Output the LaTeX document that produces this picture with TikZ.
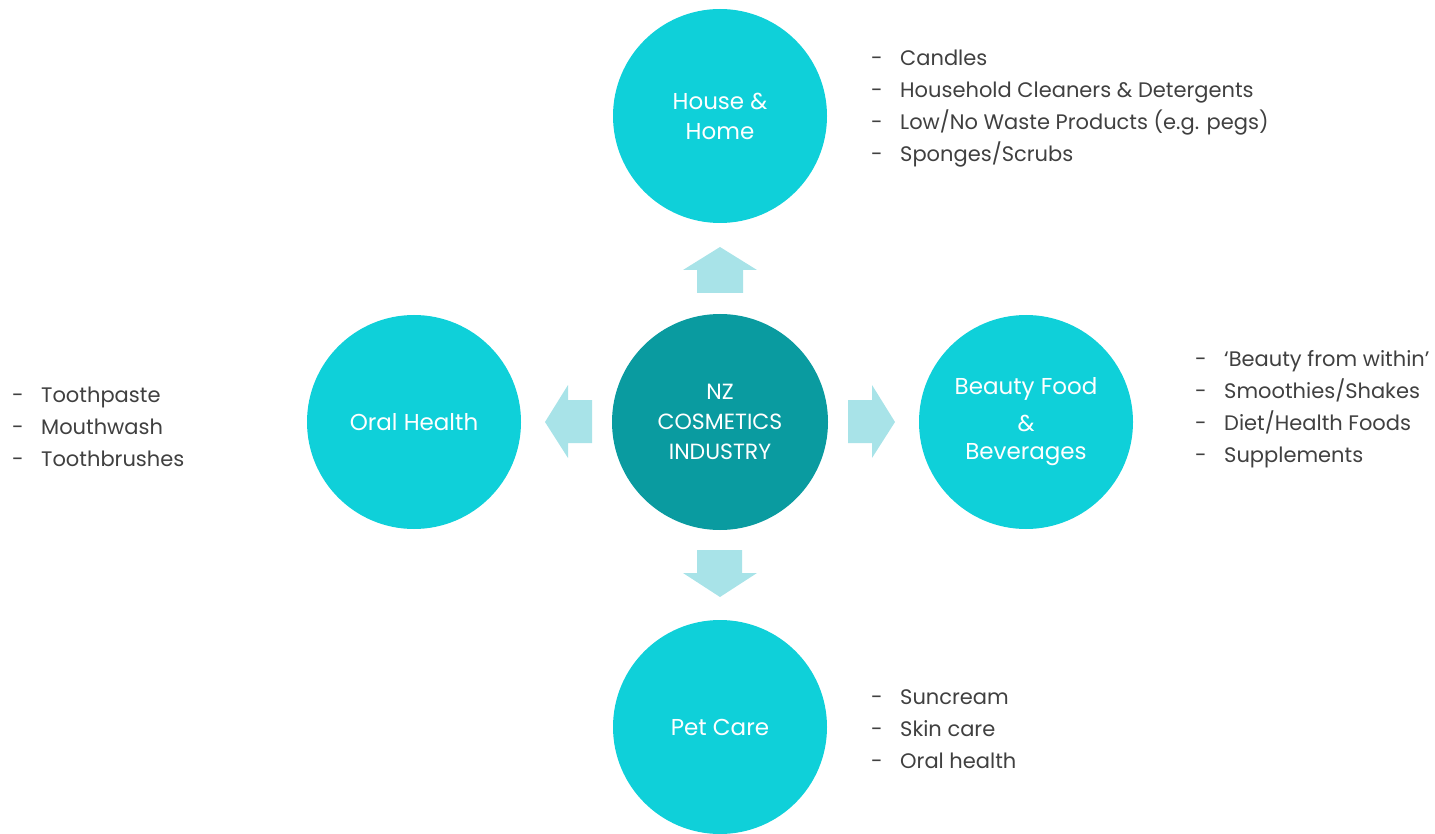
\documentclass[tikz,border=0pt]{standalone}
\usepackage{fontspec}
\setmainfont{Poppins}
\definecolor{centerc}{HTML}{0A9BA0}
\definecolor{outerc}{HTML}{0FD0D9}
\definecolor{arrowc}{HTML}{A8E3E8}
\definecolor{txt}{HTML}{404040}
\tikzset{
  hub/.style={circle, fill=centerc, minimum size=216pt, inner sep=0pt, text=white, align=center, font=\fontsize{22}{30}\selectfont},
  spoke/.style={circle, fill=outerc, minimum size=214pt, inner sep=0pt, text=white, align=center, font=\fontsize{23}{30}\selectfont},
  list/.style={anchor=north west, inner sep=0pt, align=left, text=txt, font=\fontsize{21}{32}\selectfont},
  blockarrow/.style={fill=arrowc, draw=none}
}
\newcommand{\itm}[1]{\makebox[29pt][l]{-}#1}
\begin{document}
\begin{tikzpicture}[x=1pt,y=-1pt]
\useasboundingbox (0,0) rectangle (1435,834);
\node[hub] (hub) at (720,422) {NZ\\COSMETICS\\INDUSTRY};
\node[spoke] (house) at (720,116) {House \&\\Home};
\node[spoke] (oral) at (414,422) {Oral Health};
\node[spoke] (beauty) at (1026,422) {Beauty Food\\[7pt]\&\\[-2pt]Beverages};
\node[spoke] (pet) at (720,727) {Pet Care};
% block arrows
\fill[blockarrow] (720,247) -- (757,270) -- (743,270) -- (743,293) -- (697,293) -- (697,270) -- (683,270) -- cycle;
\fill[blockarrow] (720,597) -- (757,573) -- (742,573) -- (742,550) -- (697,550) -- (697,573) -- (683,573) -- cycle;
\fill[blockarrow] (545,422) -- (568,385) -- (568,400) -- (592,400) -- (592,443) -- (568,443) -- (568,458) -- cycle;
\fill[blockarrow] (895,422) -- (872,385) -- (872,400) -- (848,400) -- (848,443) -- (872,443) -- (872,458) -- cycle;
% lists
\node[list] (houselist) at (871,50) {\itm{Candles}\\\itm{Household Cleaners \& Detergents}\\\itm{Low/No Waste Products (e.g. pegs)}\\\itm{Sponges/Scrubs}};
\node[list] (beautylist) at (1195,350) {\itm{‘Beauty from within’}\\\itm{Smoothies/Shakes}\\\itm{Diet/Health Foods}\\\itm{Supplements}};
\node[list] (orallist) at (12,387) {\itm{Toothpaste}\\\itm{Mouthwash}\\\itm{Toothbrushes}};
\node[list] (petlist) at (871,689) {\itm{Suncream}\\\itm{Skin care}\\\itm{Oral health}};
\end{tikzpicture}
\end{document}
